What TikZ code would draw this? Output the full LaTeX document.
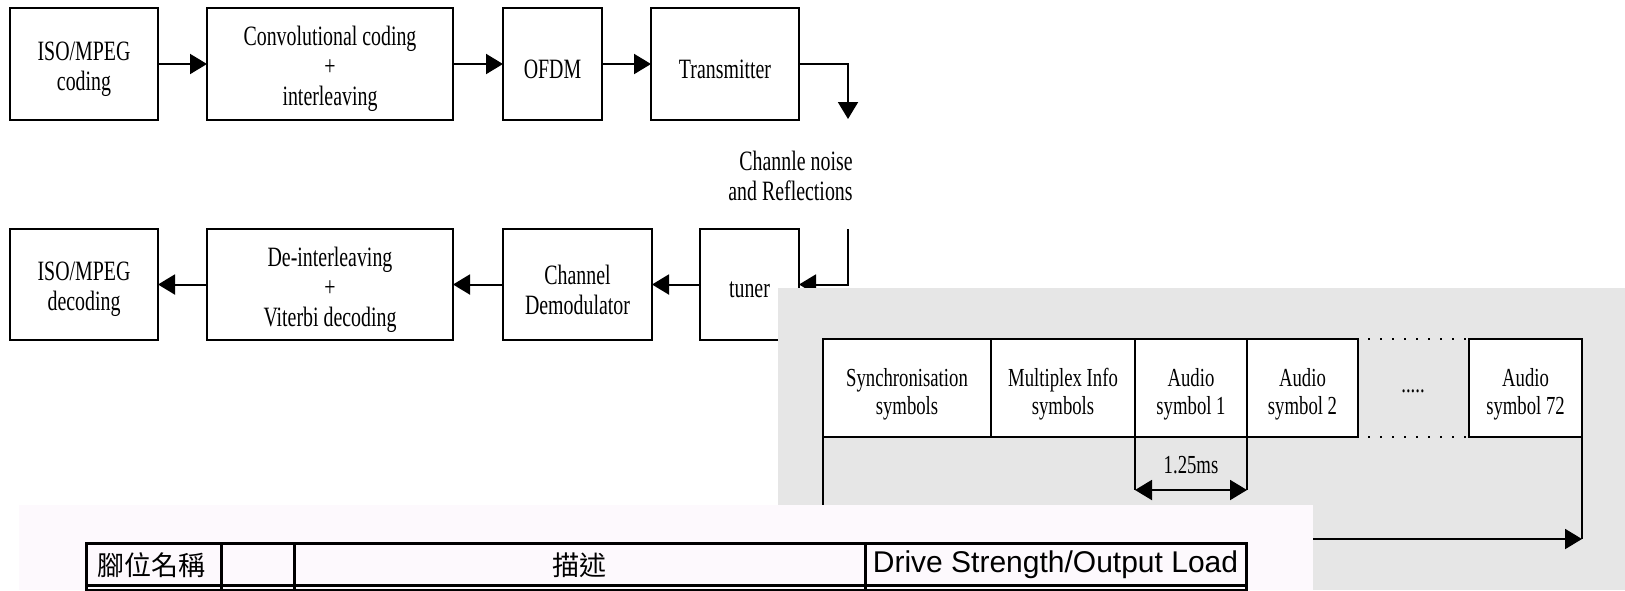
\documentclass[tikz,border=0pt]{standalone}
\usepackage{fontspec}
\setmainfont{Liberation Serif}
\newfontfamily\diafont[FakeStretch=0.71]{Liberation Serif}
\newfontfamily\cellfont[FakeStretch=0.72]{Liberation Serif}
\newfontfamily\tabsans{Liberation Sans}
\newfontfamily\cjkfont{Noto Sans CJK TC}
\usetikzlibrary{arrows.meta}

\definecolor{panelgray}{RGB}{230,230,230}
\definecolor{pinkbg}{RGB}{253,249,253}

\begin{document}
\begin{tikzpicture}[x=0.5pt,y=-0.5pt,
  box/.style={draw, line width=1pt, fill=white, inner sep=0pt, outer sep=0pt},
  toprow/.style={box, minimum height=56pt},
  botrow/.style={box, minimum height=55.5pt},
  cell/.style={box, minimum height=49pt},
  boxtext/.style={inner sep=0pt, align=center, yshift=-2.5pt,
    font=\diafont\fontsize{14}{15}\selectfont},
  celltext/.style={inner sep=0pt, align=center, yshift=-3pt,
    font=\cellfont\fontsize{13}{14}\selectfont},
  lbl/.style={inner sep=0pt, align=center, font=\diafont\fontsize{14}{15}\selectfont},
  smalllbl/.style={inner sep=0pt, align=center, font=\cellfont\fontsize{13}{14}\selectfont},
  wire/.style={line width=1pt},
  tip/.style={arrows={-Triangle[length=8.5pt,width=10pt]}},
  tipboth/.style={arrows={Triangle[length=8.5pt,width=10pt]-Triangle[length=8.5pt,width=10pt]}},
  dotrule/.style={line width=1pt, dash pattern=on 1pt off 5pt, dash phase=1pt},
  rule/.style={line width=1.5pt},
]
\useasboundingbox (0,0) rectangle (1625,590);
\fill[white] (0,0) rectangle (1625,590);

% ---- transmit chain ----
\node[toprow, minimum width=74pt, label={[boxtext]center:{ISO/MPEG\\coding}}] (enc) at (84,64) {};
\node[toprow, minimum width=123pt, label={[boxtext]center:{Convolutional coding\\+\\interleaving}}] (conv) at (330,64) {};
\node[toprow, minimum width=49.5pt, label={[boxtext]center:OFDM}] (ofdm) at (552.5,64) {};
\node[toprow, minimum width=74pt, label={[boxtext]center:Transmitter}] (tx) at (725,64) {};
\coordinate (drop) at (848,119);

\draw[wire,tip] (enc.east) -- (conv.west);
\draw[wire,tip] (conv.east) -- (ofdm.west);
\draw[wire,tip] (ofdm.east) -- (tx.west);
\draw[wire,tip] (tx.east) -| (drop);

\node[lbl, anchor=east, align=right] (noise) at (853,176) {Channle noise\\and Reflections};

% ---- receive chain ----
\node[botrow, minimum width=74pt, label={[boxtext]center:{ISO/MPEG\\decoding}}] (dec) at (84,284.5) {};
\node[botrow, minimum width=123pt, label={[boxtext]center:{De-interleaving\\+\\Viterbi decoding}}] (deint) at (330,284.5) {};
\node[botrow, minimum width=74.5pt, label={[boxtext]center:{Channel\\Demodulator}}] (demod) at (577.5,284.5) {};
\node[botrow, minimum width=49.5pt, label={[boxtext]center:tuner}] (tuner) at (749.5,284.5) {};
\coordinate (rise) at (848,229);

\draw[wire,tip] (rise) |- (tuner.east);
\draw[wire,tip] (tuner.west) -- (demod.east);
\draw[wire,tip] (demod.west) -- (deint.east);
\draw[wire,tip] (deint.west) -- (dec.east);

% ---- frame structure panel ----
\fill[panelgray] (778,288) rectangle (1625,590);

\node[cell, minimum width=84pt, label={[celltext]center:{Synchronisation\\symbols}}] (sync) at (907,388) {};
\node[cell, minimum width=72pt, label={[celltext]center:{Multiplex Info\\symbols}}] (mux) at (1063,388) {};
\node[cell, minimum width=56pt, label={[celltext]center:{Audio\\symbol 1}}] (a1) at (1191,388) {};
\node[cell, minimum width=55.5pt, label={[celltext]center:{Audio\\symbol 2}}] (a2) at (1302.5,388) {};
\node[cell, minimum width=56.5pt, label={[celltext]center:{Audio\\symbol 72}}] (a72) at (1525.5,388) {};
\draw[dotrule] (a2.north east) -- (a72.north west);
\draw[dotrule] (a2.south east) -- (a72.south west);
\node[smalllbl] (more) at (1413,391) {.....};

\coordinate (t1) at (1135,490);
\coordinate (t2) at (1247,490);
\draw[wire] (a1.south west) -- (t1);
\draw[wire] (a1.south east) -- (t2);
\draw[wire,tipboth] (t1) -- (t2);
\node[smalllbl] (dur) at (1191,465) {1.25ms};

\coordinate (next) at (1582,539);
\draw[wire,tip] (sync.south west) |- (next);
\draw[wire] (a72.south east) -- (next);

% ---- pin table panel ----
\fill[pinkbg] (18.5,505) rectangle (1313,590);
\draw[rule] (86,596) -- (86,543) -- (1246,543) -- (1246,596);
\draw[rule] (86,585) -- (1246,585);
\draw[rule] (86,590) -- (1246,590);
\foreach \cx in {221,294,865} \draw[rule] (\cx,543) -- (\cx,596);
\node[inner sep=0pt, font=\cjkfont\fontsize{13.5}{14}\selectfont] (h1) at (151.5,565) {腳位名稱};
\node[inner sep=0pt, font=\cjkfont\fontsize{13.5}{14}\selectfont] (h3) at (579.5,565) {描述};
\node[inner sep=0pt, font=\tabsans\fontsize{15}{16}\selectfont] (h4) at (1055.5,565) {Drive Strength/Output Load};
\end{tikzpicture}
\end{document}
